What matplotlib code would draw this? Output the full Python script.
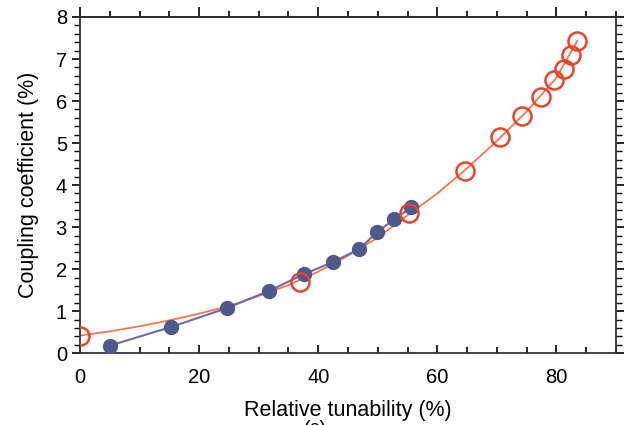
import numpy as np
import matplotlib.pyplot as plt
from matplotlib.ticker import MultipleLocator

plt.rcParams['font.family'] = ['Liberation Sans', 'DejaVu Sans']

# measured points (filled)
meas_x = [5.0, 15.2, 24.6, 31.7, 37.6, 42.5, 46.9, 49.9, 52.8, 55.6]
meas_y = [0.18, 0.62, 1.07, 1.48, 1.88, 2.17, 2.48, 2.88, 3.19, 3.47]

# calculated points (open circles)
calc_x = [0.0, 37.0, 55.2, 64.6, 70.5, 74.2, 77.4, 79.6, 81.3, 82.5, 83.5]
calc_y = [0.42, 1.70, 3.33, 4.33, 5.14, 5.64, 6.10, 6.50, 6.76, 7.10, 7.43]

# smooth fitted curve
fit_x = [0, 5, 10, 15, 20, 25, 30, 35, 40, 45, 50, 55, 60, 65, 70, 75, 80, 83.5]
fit_y = [0.42, 0.52, 0.64, 0.78, 0.94, 1.12, 1.36, 1.62, 1.94, 2.32, 2.75, 3.28,
         3.80, 4.40, 5.05, 5.75, 6.55, 7.43]

fig = plt.figure(figsize=(6.31, 4.25), dpi=100)
ax = fig.add_axes([0.127, 0.169, 0.849, 0.791])

ax.plot(fit_x, fit_y, color='#f2764f', lw=1.3, zorder=2)
ax.plot(meas_x, meas_y, color='#6f6aa8', lw=1.5, marker='o', ms=10,
        mfc='#4d5a8a', mec='#4d5a8a', zorder=3)
ax.plot(calc_x, calc_y, ls='none', marker='o', ms=13, mfc='none',
        mec='#e8432c', mew=1.8, zorder=4)

ax.set_xlim(0, 90)
ax.set_ylim(0, 8)
ax.xaxis.set_major_locator(MultipleLocator(20))
ax.xaxis.set_minor_locator(MultipleLocator(5))
ax.yaxis.set_major_locator(MultipleLocator(1))
ax.yaxis.set_minor_locator(MultipleLocator(0.2))

ax.tick_params(axis='x', which='both', direction='in', labelsize=14.5, top=False)
ax.tick_params(axis='x', which='major', length=6, width=1.2, pad=11)
ax.tick_params(axis='x', which='minor', length=4, width=1.2)
ax.tick_params(axis='y', which='both', direction='out', right=True, labelsize=14.5)
ax.tick_params(axis='y', which='major', length=6, width=1.2)
ax.tick_params(axis='y', which='minor', length=4, width=1.0)

top = ax.secondary_xaxis('top')
top.xaxis.set_major_locator(MultipleLocator(20))
top.xaxis.set_minor_locator(MultipleLocator(5))
top.tick_params(which='both', direction='out', labeltop=False, width=1.2)
top.tick_params(which='major', length=7)
top.tick_params(which='minor', length=4)

for s in ax.spines.values():
    s.set_linewidth(1.3)
    s.set_color('#333333')
top.spines['top'].set_linewidth(1.3)

ax.set_xlabel('Relative tunability (%)', fontsize=15.5, labelpad=9)
ax.set_ylabel('Coupling coefficient (%)', fontsize=15.5, labelpad=12)

fig.text(0.5, 0.012, '(c)', ha='center', va='top', fontsize=14)

fig.savefig('out.png', dpi=100)
